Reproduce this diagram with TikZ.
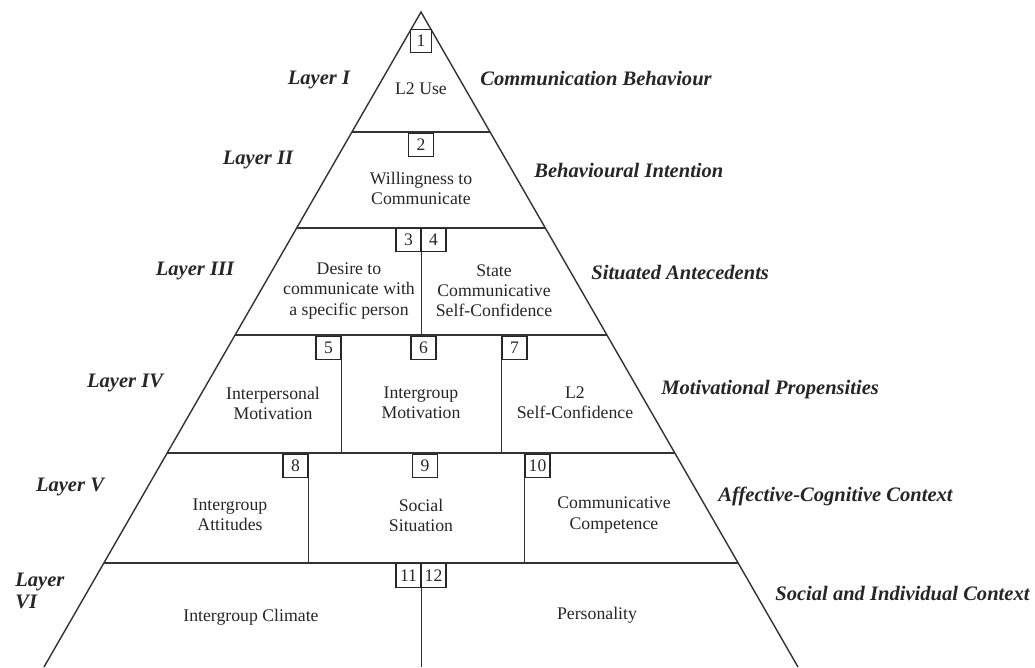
\documentclass[tikz,border=0pt]{standalone}
\usepackage{fontspec}
\setmainfont{Liberation Serif}
\begin{document}
\begin{tikzpicture}[x=0.02cm,y=-0.02cm,
  edge/.style={draw=black!80,line width=0.8pt},
  body/.style={font=\fontsize{10.1}{11.4}\selectfont,align=center,inner sep=0pt,text=black!85},
  numbox/.style={draw=black!85,line width=0.8pt,font=\fontsize{10}{11}\selectfont,
    minimum width=0.5cm,minimum height=0.47cm,inner sep=0pt,text=black!85},
  layer/.style={font=\fontsize{11.7}{13.5}\selectfont\bfseries\itshape,inner sep=0pt,text=black!85},
  ctx/.style={layer,anchor=west}]
\useasboundingbox (0,0) rectangle (1035,667);

% outline of the pyramid
\coordinate (apex) at (421,12);
\coordinate (bl) at (44,667);
\coordinate (br) at (798,667);
\draw[edge] (bl) -- (apex) -- (br);

% layer boundaries
\draw[edge] (351.9,132) -- (490.1,132);
\draw[edge] (296.7,228) -- (545.3,228);
\draw[edge] (235.1,335) -- (606.9,335);
\draw[edge] (167.2,453) -- (674.8,453);
\draw[edge] (103.8,563) -- (738.2,563);

% numbered boxes
\node[numbox,minimum width=0.42cm] (n1) at (421,41) {1};
\node[numbox] (n2) at (421,145) {2};
\node[numbox] (n3) at (408.5,240) {3};
\node[numbox] (n4) at (433.5,240) {4};
\node[numbox] (n5) at (328.5,348) {5};
\node[numbox] (n6) at (423.5,348) {6};
\node[numbox] (n7) at (514.5,348) {7};
\node[numbox] (n8) at (295.5,466) {8};
\node[numbox] (n9) at (425,466) {9};
\node[numbox] (n10) at (537.5,466) {10};
\node[numbox] (n11) at (408.5,575.5) {11};
\node[numbox] (n12) at (433.5,575.5) {12};

% inner dividers
\draw[edge] (n3.south east) -- (n3.south east |- 0,335);
\draw[edge] (n5.south east) -- (n5.south east |- 0,453);
\draw[edge] (n7.south west) -- (n7.south west |- 0,453);
\draw[edge] (n8.south east) -- (n8.south east |- 0,563);
\draw[edge] (n10.south west) -- (n10.south west |- 0,563);
\draw[edge] (n11.south east) -- (n11.south east |- 0,667);

% construct labels
\node[body] (t1) at (421,89) {L2 Use};
\node[body] (t2) at (421,188) {Willingness to\\Communicate};
\node[body] (t3) at (349,291) {Desire to\\communicate with\\a specific person};
\node[body] (t4) at (494,291) {State\\Communicative\\Self-Confidence};
\node[body] (t5) at (273,403) {Interpersonal\\Motivation};
\node[body] (t6) at (421,403) {Intergroup\\Motivation};
\node[body] (t7) at (575,403) {L2\\Self-Confidence};
\node[body] (t8) at (230,515) {Intergroup\\Attitudes};
\node[body] (t9) at (421,515) {Social\\Situation};
\node[body] (t10) at (614,515) {Communicative\\Competence};
\node[body] (t11) at (251,617) {Intergroup Climate};
\node[body] (t12) at (597,615) {Personality};

% layer names
\node[layer] (l1) at (319,80) {Layer I};
\node[layer] (l2) at (258,160) {Layer II};
\node[layer] (l3) at (195,271) {Layer III};
\node[layer] (l4) at (125,383) {Layer IV};
\node[layer] (l5) at (70,487) {Layer V};
\node[layer,anchor=west,align=left,font=\fontsize{11.7}{12.6}\selectfont\bfseries\itshape] (l6) at (15,591) {Layer\\VI};

% context names
\node[ctx] (c1) at (480,78) {Communication Behaviour};
\node[ctx] (c2) at (534,170) {Behavioural Intention};
\node[ctx] (c3) at (591,272) {Situated Antecedents};
\node[ctx] (c4) at (661,390) {Motivational Propensities};
\node[ctx] (c5) at (718,496) {Affective-Cognitive Context};
\node[ctx] (c6) at (775,593) {Social and Individual Context};
\end{tikzpicture}
\end{document}
